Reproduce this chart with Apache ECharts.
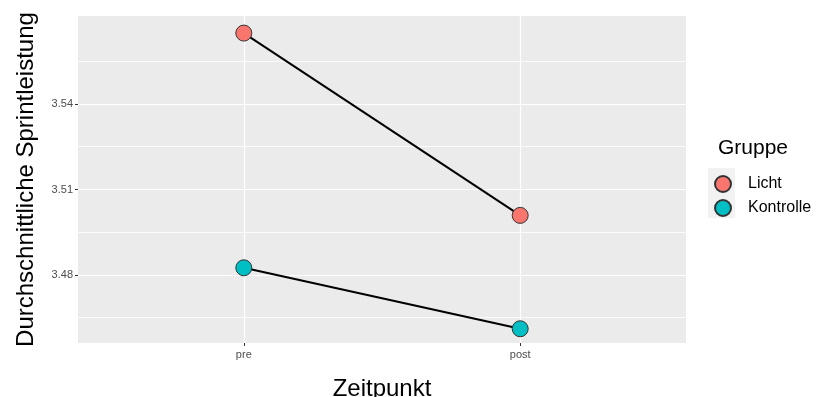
<!DOCTYPE html>
<html>
<head>
<meta charset="utf-8">
<script src="https://cdn.jsdelivr.net/npm/echarts@6/dist/echarts.min.js"></script>
<style>
html,body{margin:0;padding:0;background:#fff;}
#c{width:816px;height:397px;}
</style>
</head>
<body>
<div id="c"></div>
<script>
var categories = ['pre', 'post'];
var groups = ['Licht', 'Kontrolle'];
var licht = [3.5649, 3.5009];
var kontrolle = [3.4825, 3.4611];
var yMajor = [3.48, 3.51, 3.54];
var yMinor = [3.465, 3.495, 3.525, 3.555];
var colors = ['#F8766D', '#00BFC4'];

function toXY(arr) { return arr.map(function (v, i) { return [i + 1, v]; }); }

var chart = echarts.init(document.getElementById('c'), null, {renderer: 'canvas'});
var FONT = 'Liberation Sans, Arial, sans-serif';
var yMin = 3.4561, yMax = 3.5709;

chart.setOption({
  animation: false,
  backgroundColor: '#ffffff',
  textStyle: {fontFamily: FONT},
  title: {
    text: 'Gruppe', left: 718, top: 138, padding: 0,
    textStyle: {fontFamily: FONT, fontSize: 21, fontWeight: 'normal', color: '#000'}
  },
  graphic: [{
    type: 'rect', left: 708, top: 168, shape: {width: 27, height: 50},
    style: {fill: '#F2F2F2'}, z: -1
  }],
  legend: {
    data: groups, orient: 'vertical', left: 714, top: 175, icon: 'circle', padding: 0,
    itemWidth: 16, itemHeight: 16, itemGap: 6,
    textStyle: {fontFamily: FONT, fontSize: 16, color: '#000', padding: [0, 0, 0, 12]}
  },
  grid: {left: 78, right: 130, top: 16, bottom: 54, show: true, backgroundColor: '#EBEBEB', borderWidth: 0,
    outerBoundsMode: 'none', containLabel: false},
  xAxis: {
    type: 'value', min: 0.4, max: 2.6,
    name: 'Zeitpunkt', nameLocation: 'middle', nameGap: 34,
    nameTextStyle: {fontFamily: FONT, fontSize: 24, color: '#000', verticalAlign: 'top'},
    axisLine: {show: false},
    axisTick: {show: true, length: 3, lineStyle: {color: '#333', width: 1}, customValues: [1, 2]},
    axisLabel: {customValues: [1, 2], margin: 6, fontSize: 11, color: '#4D4D4D', fontFamily: FONT,
      formatter: function (v) { return categories[Math.round(v) - 1]; }},
    splitLine: {show: true, lineStyle: {color: '#ffffff', width: 1.2}}
  },
  yAxis: [{
    type: 'value', min: yMin, max: yMax,
    name: 'Durchschnittliche Sprintleistung', nameLocation: 'middle', nameGap: 40, nameRotate: 90,
    nameTextStyle: {fontFamily: FONT, fontSize: 24, color: '#000'},
    axisLine: {show: false},
    axisTick: {show: true, length: 3, lineStyle: {color: '#333', width: 1}, customValues: yMajor},
    axisLabel: {customValues: yMajor, margin: 5, fontSize: 11, color: '#4D4D4D', fontFamily: FONT,
      formatter: function (v) { return v.toFixed(2); }},
    splitLine: {show: true, lineStyle: {color: '#ffffff', width: 1.2}}
  }, {
    type: 'value', min: yMin, max: yMax, position: 'left',
    axisLine: {show: false},
    axisTick: {show: false, customValues: yMinor},
    axisLabel: {show: false, customValues: yMinor},
    splitLine: {show: true, lineStyle: {color: '#ffffff', width: 0.8}}
  }],
  series: [{
    name: groups[0], type: 'line', data: toXY(licht), yAxisIndex: 0,
    symbol: 'circle', symbolSize: 16,
    lineStyle: {color: '#000', width: 2},
    itemStyle: {color: colors[0], borderColor: '#333', borderWidth: 1},
    z: 3
  }, {
    name: groups[1], type: 'line', data: toXY(kontrolle), yAxisIndex: 0,
    symbol: 'circle', symbolSize: 16,
    lineStyle: {color: '#000', width: 2},
    itemStyle: {color: colors[1], borderColor: '#333', borderWidth: 1},
    z: 3
  }]
});
</script>
</body>
</html>
